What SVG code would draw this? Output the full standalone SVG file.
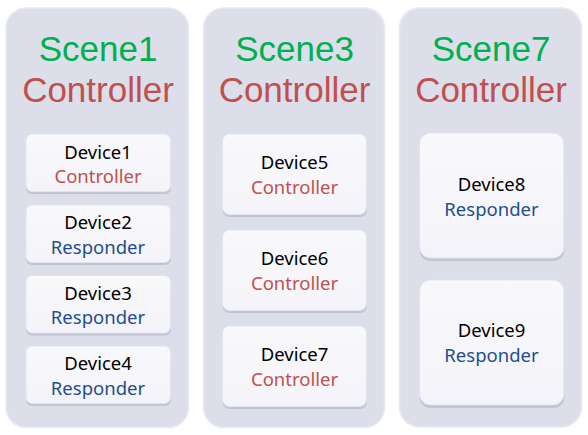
<svg xmlns="http://www.w3.org/2000/svg" width="588" height="435" viewBox="0 0 588 435">
<style>
.panel{fill:#dcdeea;stroke:#e9eaf2;stroke-width:1.5}
.shadow{fill:#c2c3d3}
.box{fill:url(#boxg);stroke:#e2e3ee;stroke-width:1}
.t{font-family:"Noto Sans","Open Sans","Liberation Sans",sans-serif;text-anchor:middle}
.h{font-family:"Liberation Sans","Noto Sans",sans-serif;text-anchor:middle;font-size:35px}
.scene{fill:#00b050}
.ctl{fill:#c0504d}
.dev{font-size:18.5px;fill:#000}
.rc{font-size:18.5px;fill:#c0504d}
.rr{font-size:18.5px;fill:#1f4e8c}
</style>
<defs>
<linearGradient id="boxg" x1="0" y1="0" x2="0" y2="1">
<stop offset="0" stop-color="#f9f9fc"/>
<stop offset="1" stop-color="#f3f3f9"/>
</linearGradient>
</defs>
<rect width="588" height="435" fill="#fff"/>
<g id="panel1">
<rect class="panel" x="6" y="8" width="182.5" height="419.5" rx="20"/>
<text class="h scene" x="98" y="61">Scene1</text>
<text class="h ctl" x="98" y="102">Controller</text>
</g>
<g id="panel3">
<rect class="panel" x="203.5" y="8" width="181" height="419.5" rx="20"/>
<text class="h scene" x="294.5" y="61">Scene3</text>
<text class="h ctl" x="294.5" y="102">Controller</text>
</g>
<g id="panel7">
<rect class="panel" x="399.5" y="8" width="182" height="419" rx="20"/>
<text class="h scene" x="491" y="61">Scene7</text>
<text class="h ctl" x="491" y="102">Controller</text>
</g>
<g id="device1">
<rect class="shadow" x="26" y="136" width="145" height="58" rx="6"/>
<rect class="box" x="26" y="134" width="144.5" height="57.5" rx="6"/>
<text class="t dev" x="98" y="158.5">Device1</text>
<text class="t rc" x="98" y="183">Controller</text>
</g>
<g id="device2">
<rect class="shadow" x="26" y="207" width="145" height="58" rx="6"/>
<rect class="box" x="26" y="205" width="144.5" height="57.5" rx="6"/>
<text class="t dev" x="98" y="229">Device2</text>
<text class="t rr" x="98" y="253.5">Responder</text>
</g>
<g id="device3">
<rect class="shadow" x="26" y="277.5" width="145" height="58" rx="6"/>
<rect class="box" x="26" y="275.5" width="144.5" height="57.5" rx="6"/>
<text class="t dev" x="98" y="299.5">Device3</text>
<text class="t rr" x="98" y="324">Responder</text>
</g>
<g id="device4">
<rect class="shadow" x="26" y="348" width="145" height="58" rx="6"/>
<rect class="box" x="26" y="346" width="144.5" height="57.5" rx="6"/>
<text class="t dev" x="98" y="370">Device4</text>
<text class="t rr" x="98" y="394.5">Responder</text>
</g>
<g id="device5">
<rect class="shadow" x="222.5" y="136" width="144.5" height="81" rx="7"/>
<rect class="box" x="222.5" y="134" width="144" height="80.5" rx="7"/>
<text class="t dev" x="294.5" y="169">Device5</text>
<text class="t rc" x="294.5" y="193.5">Controller</text>
</g>
<g id="device6">
<rect class="shadow" x="222.5" y="232" width="144.5" height="81" rx="7"/>
<rect class="box" x="222.5" y="230" width="144" height="80.5" rx="7"/>
<text class="t dev" x="294.5" y="265">Device6</text>
<text class="t rc" x="294.5" y="289.5">Controller</text>
</g>
<g id="device7">
<rect class="shadow" x="222.5" y="328" width="144.5" height="81" rx="7"/>
<rect class="box" x="222.5" y="326" width="144" height="80.5" rx="7"/>
<text class="t dev" x="294.5" y="361">Device7</text>
<text class="t rc" x="294.5" y="385.5">Controller</text>
</g>
<g id="device8">
<rect class="shadow" x="419.5" y="135" width="145" height="126" rx="11"/>
<rect class="box" x="419.5" y="133" width="144.5" height="125" rx="11"/>
<text class="t dev" x="491.5" y="191">Device8</text>
<text class="t rr" x="491.5" y="216">Responder</text>
</g>
<g id="device9">
<rect class="shadow" x="419.5" y="282" width="145" height="126" rx="11"/>
<rect class="box" x="419.5" y="280" width="144.5" height="125" rx="11"/>
<text class="t dev" x="491.5" y="337">Device9</text>
<text class="t rr" x="491.5" y="362">Responder</text>
</g>
<g id="connectors"/>
</svg>
